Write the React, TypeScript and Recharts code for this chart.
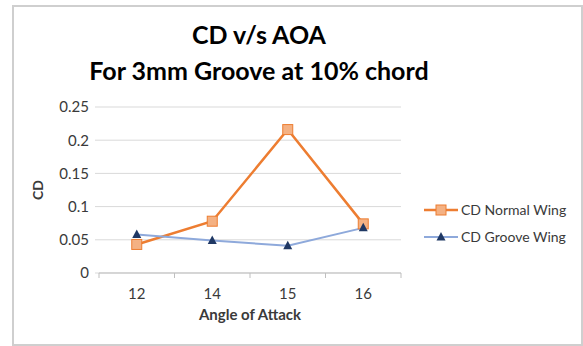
import React from "react";
import {
  ComposedChart,
  Line,
  XAxis,
  YAxis,
  CartesianGrid,
} from "recharts";

const angles = ["12", "14", "15", "16"];
const cdNormal = [0.043, 0.078, 0.216, 0.074];
const cdGroove = [0.058, 0.049, 0.041, 0.068];
const yTicks = [0, 0.05, 0.1, 0.15, 0.2, 0.25];
const seriesNames = ["CD Normal Wing", "CD Groove Wing"];

const FONT = "Lato, 'Open Sans', sans-serif";
const ORANGE = "#ED7D31";
const ORANGE_FILL = "#F4B183";
const BLUE = "#8EA9DB";
const NAVY = "#1F3864";
const TEXT = "#3a3a3a";

const W = 583;
const H = 346;
const MARGIN = { top: 107, right: 182, bottom: 0, left: 0 };
const Y_AXIS_W = 99;
const X_AXIS_H = 73;
const PLOT_W = W - MARGIN.left - Y_AXIS_W - MARGIN.right;

const chartData = angles.map((a, i) => ({
  angle: a,
  normal: cdNormal[i],
  groove: cdGroove[i],
}));

const SquareDot = (props: any) => {
  const { cx, cy } = props;
  if (cx == null || cy == null) return null;
  return (
    <rect x={cx - 5} y={cy - 5} width={10} height={10} fill={ORANGE_FILL} stroke={ORANGE} strokeWidth={1} />
  );
};

const TriangleDot = (props: any) => {
  const { cx, cy } = props;
  if (cx == null || cy == null) return null;
  return (
    <polygon points={`${cx},${cy - 5} ${cx + 4.5},${cy + 3.5} ${cx - 4.5},${cy + 3.5}`} fill={NAVY} />
  );
};

const XTick = (props: any) => {
  const { x, y, payload, index } = props;
  const bw = PLOT_W / angles.length;
  return (
    <g>
      <line x1={x - bw / 2} y1={y} x2={x - bw / 2} y2={y + 5} stroke="#bfbfbf" />
      {index === angles.length - 1 && (
        <line x1={x + bw / 2} y1={y} x2={x + bw / 2} y2={y + 5} stroke="#bfbfbf" />
      )}
      <text x={x} y={y + 26} textAnchor="middle" fontSize={15} fill={TEXT} fontFamily={FONT}>
        {payload.value}
      </text>
    </g>
  );
};

function LegendIcon({ kind }: { kind: number }) {
  return (
    <svg width={36} height={12} style={{ display: "block" }}>
      <line x1={1} y1={6} x2={35} y2={6} stroke={kind === 0 ? ORANGE : BLUE} strokeWidth={kind === 0 ? 2.5 : 2} />
      {kind === 0 ? (
        <rect x={13} y={1} width={10} height={10} fill={ORANGE_FILL} stroke={ORANGE} />
      ) : (
        <polygon points="18,1 22.5,9.5 13.5,9.5" fill={NAVY} />
      )}
    </svg>
  );
}

export default function App() {
  return (
    <div style={{ position: "relative", width: W, height: H, background: "#fff", fontFamily: FONT }}>
      <style>{`body{margin:0}`}</style>
      <div
        style={{
          position: "absolute",
          left: 12,
          top: 5,
          width: 567,
          height: 337,
          border: "2px solid #cfcfcf",
        }}
      />
      <div
        style={{
          position: "absolute",
          left: 0,
          width: 518,
          top: 16,
          textAlign: "center",
          fontWeight: 700,
          fontSize: 25,
          lineHeight: "36px",
          color: "#000",
        }}
      >
        <div>CD v/s AOA</div>
        <div>For 3mm Groove at 10% chord</div>
      </div>
      <ComposedChart width={W} height={H} data={chartData} margin={MARGIN} style={{ position: "absolute", left: 0, top: 0 }}>
        <CartesianGrid vertical={false} stroke="#d9d9d9" />
        <XAxis
          dataKey="angle"
          scale="band"
          height={X_AXIS_H}
          tickLine={false}
          tickSize={0}
          tickMargin={0}
          stroke="#bfbfbf"
          tick={<XTick />}
          label={{
            value: "Angle of Attack",
            position: "insideTop",
            offset: 36,
            fontSize: 15,
            fontWeight: 700,
            fill: TEXT,
            fontFamily: FONT,
          }}
        />
        <YAxis
          width={Y_AXIS_W}
          domain={[0, 0.25]}
          ticks={yTicks}
          axisLine={false}
          tickSize={4}
          tickMargin={6}
          tickLine={{ stroke: "#d9d9d9" }}
          tick={{ fontSize: 15, fill: TEXT, fontFamily: FONT }}
          label={{
            value: "CD",
            angle: -90,
            position: "center",
            dx: -11,
            fontSize: 14,
            fontWeight: 700,
            fill: TEXT,
            fontFamily: FONT,
          }}
        />
        <Line
          dataKey="normal"
          name={seriesNames[0]}
          stroke={ORANGE}
          strokeWidth={2.5}
          dot={<SquareDot />}
          activeDot={false}
          isAnimationActive={false}
        />
        <Line
          dataKey="groove"
          name={seriesNames[1]}
          stroke={BLUE}
          strokeWidth={2}
          dot={<TriangleDot />}
          activeDot={false}
          isAnimationActive={false}
        />
      </ComposedChart>
      <div style={{ position: "absolute", left: 423, top: 196 }}>
        {seriesNames.map((n, i) => (
          <div key={n} style={{ display: "flex", alignItems: "center", height: 27, fontSize: 14, color: TEXT }}>
            <LegendIcon kind={i} />
            <span style={{ marginLeft: 2 }}>{n}</span>
          </div>
        ))}
      </div>
    </div>
  );
}
